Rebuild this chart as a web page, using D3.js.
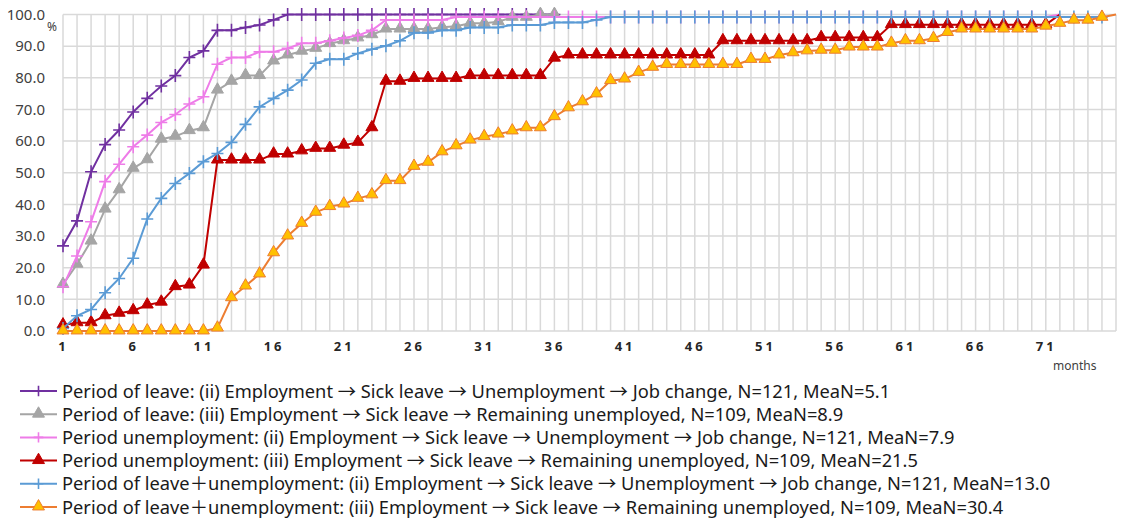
<!DOCTYPE html>
<html>
<head>
<meta charset="utf-8">
<script src="https://cdn.jsdelivr.net/npm/d3@7"></script>
<style>
  body { margin: 0; background: #fff; }
  text { font-family: "Noto Sans", "Noto Sans CJK JP", sans-serif; }
</style>
</head>
<body>
<script>
// months 1..76 on the category axis
var months = d3.range(1, 77);
var xTickLabels = [1, 6, 11, 16, 21, 26, 31, 36, 41, 46, 51, 56, 61, 66, 71];
var yTicks = [0, 10, 20, 30, 40, 50, 60, 70, 80, 90, 100];

// cumulative % per month
var leaveJob = [26.9, 34.8, 50.3, 58.9, 63.5, 69.2, 73.5, 77.4, 80.7, 86.4, 88.5, 95.0, 95.0, 95.9, 96.7, 98.3,
  100, 100, 100, 100, 100, 100, 100, 100, 100, 100, 100, 100, 100, 100, 100, 100, 100, 100, 100, 100];
var leaveRemain = [14.7, 21.1, 28.4, 38.5, 44.6, 51.4, 54.1, 60.6, 61.5, 63.3, 64.2, 76.1, 78.9, 80.7, 80.7, 85.3,
  87.2, 88.4, 89.3, 90.8, 91.7, 92.6, 93.6, 95.4, 95.4, 95.4, 95.4, 96.0, 96.3, 97.2, 97.2, 97.7, 99.1, 99.1, 100, 100];
var unempJob = [14.0, 23.7, 34.5, 47.2, 52.7, 58.2, 61.9, 65.9, 68.4, 71.7, 74.0, 84.3, 86.4, 86.4, 88.2, 88.2,
  89.3, 90.9, 90.9, 91.7, 92.6, 93.4, 95.0, 98.3, 98.3, 98.3, 98.3, 98.3, 99.2, 99.2, 99.2, 99.2, 99.2, 99.2, 99.2, 99.2,
  99.2, 99.2, 99.2, 99.2, 99.2, 99.2, 99.2, 99.2, 99.2, 99.2, 99.2, 99.2, 99.2, 99.2, 99.2, 99.2, 99.2, 99.2, 99.2, 99.2,
  99.2, 99.2, 99.2, 99.2, 99.2, 99.2, 99.2, 99.2, 99.2, 99.2, 99.2, 99.2, 99.2, 99.2, 99.2, 100];
var unempRemain = [1.9, 2.6, 2.6, 4.8, 5.6, 6.4, 8.2, 9.1, 14.0, 14.5, 20.8, 54.0, 54.0, 54.0, 54.0, 55.9,
  55.9, 56.9, 57.7, 57.7, 58.7, 59.6, 64.2, 78.9, 78.9, 79.8, 79.8, 79.8, 79.8, 80.7, 80.7, 80.7, 80.7, 80.7, 80.7, 86.2,
  87.2, 87.2, 87.2, 87.2, 87.2, 87.2, 87.2, 87.2, 87.2, 87.2, 87.2, 91.7, 91.7, 91.7, 91.7, 91.7, 91.7, 91.7, 92.7, 92.7,
  92.7, 92.7, 92.7, 96.8, 96.8, 96.8, 96.8, 96.8, 96.8, 96.8, 96.8, 96.8, 96.8, 96.8, 96.8, 100];
var totalJob = [0.8, 4.8, 6.8, 12.1, 16.6, 23.0, 35.4, 41.9, 46.6, 49.8, 53.5, 56.1, 59.6, 65.3, 70.8, 73.5,
  76.1, 79.3, 84.6, 85.9, 85.9, 87.7, 89.0, 90.1, 91.7, 94.2, 94.2, 95.0, 95.0, 95.9, 95.9, 95.9, 96.7, 96.7, 96.7, 97.5,
  97.5, 97.5, 98.3, 99.2, 99.2, 99.2, 99.2, 99.2, 99.2, 99.2, 99.2, 99.2, 99.2, 99.2, 99.2, 99.2, 99.2, 99.2, 99.2, 99.2,
  99.2, 99.2, 99.2, 99.2, 99.2, 99.2, 99.2, 99.2, 99.2, 99.2, 99.2, 99.2, 99.2, 99.2, 99.2, 99.2, 99.2, 99.2, 99.2];
var totalRemain = [0, 0, 0, 0, 0, 0, 0, 0, 0, 0, 0, 0.9, 10.5, 14.2, 18.0, 24.7,
  30.0, 34.0, 37.5, 39.3, 40.1, 41.9, 43.0, 47.5, 47.5, 52.0, 53.3, 56.6, 58.5, 60.3, 61.4, 62.2, 63.2, 64.2, 64.2, 67.7,
  70.5, 72.4, 74.9, 79.1, 79.6, 81.7, 83.3, 84.2, 84.2, 84.2, 84.2, 84.2, 84.2, 85.8, 85.8, 87.2, 87.9, 88.5, 88.7, 88.7,
  89.7, 89.7, 89.7, 90.9, 91.7, 91.7, 92.4, 94.3, 95.4, 95.4, 95.4, 95.4, 95.4, 95.4, 96.3, 97.2, 98.2, 98.2, 99.1, 100];

var seriesNames = [
  "Period of leave: (ii) Employment \u2192 Sick leave \u2192 Unemployment \u2192 Job change, N=121, MeaN=5.1",
  "Period of leave: (iii) Employment \u2192 Sick leave \u2192 Remaining unemployed, N=109, MeaN=8.9",
  "Period unemployment: (ii) Employment \u2192 Sick leave \u2192 Unemployment \u2192 Job change, N=121, MeaN=7.9",
  "Period unemployment: (iii) Employment \u2192 Sick leave \u2192 Remaining unemployed, N=109, MeaN=21.5",
  "Period of leave\uFF0Bunemployment: (ii) Employment \u2192 Sick leave \u2192 Unemployment \u2192 Job change, N=121, MeaN=13.0",
  "Period of leave\uFF0Bunemployment: (iii) Employment \u2192 Sick leave \u2192 Remaining unemployed, N=109, MeaN=30.4"
];

// lastMark: false where the final 100% point carries no marker in the original
var series = [
  {name: seriesNames[0], values: leaveJob, color: "#7030a0", fill: "#7030a0", marker: "plus", lastMark: true},
  {name: seriesNames[1], values: leaveRemain, color: "#a5a5a5", fill: "#a5a5a5", marker: "tri", lastMark: true},
  {name: seriesNames[2], values: unempJob, color: "#ee7ce8", fill: "#ee7ce8", marker: "plus", lastMark: false},
  {name: seriesNames[3], values: unempRemain, color: "#c00000", fill: "#c00000", marker: "tri", lastMark: false},
  {name: seriesNames[4], values: totalJob, color: "#5b9bd5", fill: "#5b9bd5", marker: "plus", lastMark: true},
  {name: seriesNames[5], values: totalRemain, color: "#ed7d31", fill: "#ffc000", marker: "tri", lastMark: false}
];

var margin = {top: 14.5, left: 63},
    width = 1053,
    height = 316.5;

var svg = d3.select("body").append("svg")
    .attr("width", 1134)
    .attr("height", 527);

var g = svg.append("g")
    .attr("transform", "translate(" + margin.left + "," + margin.top + ")");

var x = d3.scaleLinear().domain([1, 76]).range([0, width]);
var y = d3.scaleLinear().domain([0, 100]).range([height, 0]);

// grid
g.append("g").selectAll("line")
    .data(months)
  .enter().append("line")
    .attr("x1", function(d) { return x(d); })
    .attr("x2", function(d) { return x(d); })
    .attr("y1", 0)
    .attr("y2", height)
    .attr("stroke", "#d9d9d9")
    .attr("stroke-width", 1.5);

g.append("g").selectAll("line")
    .data(yTicks)
  .enter().append("line")
    .attr("x1", 0)
    .attr("x2", width)
    .attr("y1", function(d) { return y(d); })
    .attr("y2", function(d) { return y(d); })
    .attr("stroke", "#d9d9d9")
    .attr("stroke-width", 1.5);

// y axis labels
var yAxis = g.append("g")
    .call(d3.axisLeft(y).tickValues(yTicks).tickFormat(d3.format(".1f")).tickSize(0).tickPadding(18));
yAxis.select(".domain").remove();
yAxis.selectAll("text")
    .style("font-size", "15px")
    .attr("fill", "#404040");

// x axis labels
var xAxis = g.append("g")
    .attr("transform", "translate(0," + height + ")")
    .call(d3.axisBottom(x).tickValues(xTickLabels).tickFormat(d3.format("d")).tickSize(0).tickPadding(11));
xAxis.select(".domain").remove();
xAxis.selectAll("text")
    .style("font-size", "13px")
    .style("font-weight", "bold")
    .style("letter-spacing", "3px")
    .attr("fill", "#262626");

svg.append("text")
    .attr("x", 47).attr("y", 31)
    .style("font-size", "12px")
    .attr("fill", "#404040")
    .text("%");

svg.append("text")
    .attr("x", 1053).attr("y", 370)
    .style("font-size", "12px")
    .attr("fill", "#404040")
    .text("months");

var line = d3.line()
    .x(function(d, i) { return x(i + 1); })
    .y(function(d) { return y(d); });

var tri = d3.symbol().type(d3.symbolTriangle).size(62);

function drawMarker(sel, s, small) {
  var k = small ? 0.8 : 1;
  if (s.marker === "plus") {
    sel.append("path")
      .attr("d", "M" + (-6 * k) + ",0H" + (6 * k) + "M0," + (-6.5 * k) + "V" + (6.5 * k))
      .attr("stroke", s.color)
      .attr("stroke-width", 1.6)
      .attr("fill", "none");
  } else {
    sel.append("path")
      .attr("d", tri)
      .attr("transform", "translate(0,-0.5)")
      .attr("fill", s.fill)
      .attr("stroke", s.color)
      .attr("stroke-width", 1);
  }
}

series.forEach(function(s) {
  var sg = g.append("g");
  sg.append("path")
    .datum(s.values)
    .attr("d", line)
    .attr("fill", "none")
    .attr("stroke", s.color)
    .attr("stroke-width", 2);
  var n = s.lastMark ? s.values.length : s.values.length - 1;
  sg.selectAll(".pt")
      .data(s.values.slice(0, n))
    .enter().append("g")
      .attr("class", "pt")
      .attr("transform", function(d, i) { return "translate(" + x(i + 1) + "," + y(d) + ")"; })
      .each(function() { drawMarker(d3.select(this), s, false); });
});

// legend
var legend = svg.append("g").attr("transform", "translate(20,391)");
series.forEach(function(s, i) {
  var row = legend.append("g").attr("transform", "translate(0," + (i * 23.2) + ")");
  row.append("line")
    .attr("x1", 0).attr("x2", 37)
    .attr("stroke", s.color)
    .attr("stroke-width", 2);
  var m = row.append("g").attr("transform", "translate(18.5,0)");
  drawMarker(m, s, true);
  row.append("text")
    .attr("x", 42).attr("y", 6.5)
    .style("font-size", "18.3px")
    .attr("fill", "#1a1a1a")
    .text(s.name);
});
</script>
</body>
</html>
